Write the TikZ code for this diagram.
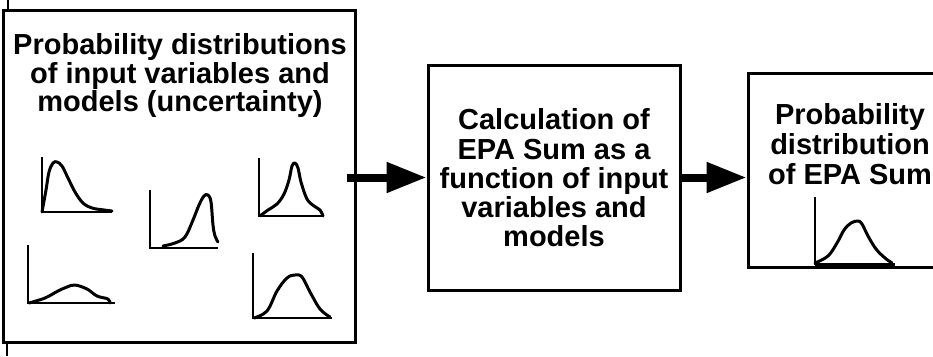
\documentclass[tikz,border=0pt]{standalone}
\usepackage{fontspec}
\setmainfont{Liberation Sans}
\usetikzlibrary{arrows.meta}
\begin{document}
\begin{tikzpicture}[x=1pt,y=-1pt,
  box/.style={draw=black, line width=3pt, rectangle, inner sep=0pt},
  txt/.style={inner sep=0pt, align=center},
  bigarrow/.style={line width=8pt, -{Triangle[length=40pt,width=29pt]}},
  axis/.style={line width=2.5pt, line cap=butt},
  curve/.style={line width=3pt, line cap=round, line join=round},
  stub/.style={line width=2pt}]
\useasboundingbox (0,0) rectangle (933,356);
\clip (0,0) rectangle (933,356);

% boxes
\node[box, minimum width=352pt, minimum height=332pt] (lbox) at (179,176) {};
\node[box, minimum width=252pt, minimum height=225pt] (mbox) at (554,177.5) {};
\node[box, minimum width=204pt, minimum height=194pt] (rbox) at (850,170) {};

% stubs of a vertical line at the left
\coordinate (s1a) at (7.5,0);
\coordinate (s1b) at (7.5,10);
\coordinate (s2a) at (7,343);
\coordinate (s2b) at (7,356);
\draw[stub] (s1a) -- (s1b);
\draw[stub] (s2a) -- (s2b);

% texts
\node[txt, font=\fontsize{29}{28}\selectfont\bfseries] (ltext) at (180,75.5)
  {Probability distributions\\of input variables and\\models (uncertainty)};
\node[txt, font=\fontsize{29}{29.25}\selectfont\bfseries] (mtext) at (554,178)
  {Calculation of\\EPA Sum as a\\function of input\\variables and\\models};
\node[txt, font=\fontsize{29}{30}\selectfont\bfseries] (rtext) at (850,144.5)
  {Probability\\distribution\\of EPA Sum};

% arrows
\draw[bigarrow, shorten <=-10pt] (lbox.east |- mbox.west) -- (mbox.west);
\draw[bigarrow] (mbox.east) -- (mbox.east -| rbox.west);

% distribution 1 (right skewed)
\draw[axis] (42,157) -- (42,212) -- (112,212);
\draw[curve] plot[smooth, tension=0.6] coordinates {(42,212) (46,190) (49,172) (53,163) (57,162) (62,166) (68,178) (75,192) (83,203) (92,208) (104,210) (112,211)};

% distribution 2 (left skewed)
\draw[axis] (150,190) -- (150,248) -- (218,248);
\draw[curve] plot[smooth, tension=0.6] coordinates {(163,246) (175,243) (185,237) (193,220) (199,205) (204,196) (208,195) (211,202) (213,225) (215,236) (218,242)};

% distribution 3 (peaked)
\draw[axis] (259,158) -- (259,216) -- (323,216);
\draw[curve] plot[smooth, tension=0.6] coordinates {(260,216) (268,210) (277,204) (284,194) (289,180) (292,166) (295,163) (298,168) (301,182) (307,199) (314,206) (320,210) (323,216)};

% distribution 4 (broad)
\draw[axis] (28,245) -- (28,303) -- (115,303);
\draw[curve] plot[smooth, tension=0.6] coordinates {(29,303) (45,298) (58,291) (67,287) (75,285) (87,289) (97,296) (108,299) (110,303)};

% distribution 5 (normal)
\draw[axis] (253,253) -- (253,318) -- (332,318);
\draw[curve] plot[smooth, tension=0.6] coordinates {(254,318) (267,311) (277,291) (287,278) (295,275) (302,277) (310,292) (320,309) (330,317)};

% output distribution
\draw[axis] (815,197) -- (815,265);
\draw[line width=4pt] (815,265) -- (895,265);
\draw[curve] plot[smooth, tension=0.6] coordinates {(815,263) (828,256) (837,243) (844,230) (851,223) (858,221) (862,224) (868,236) (876,249) (885,258) (892,263)};
\end{tikzpicture}
\end{document}
